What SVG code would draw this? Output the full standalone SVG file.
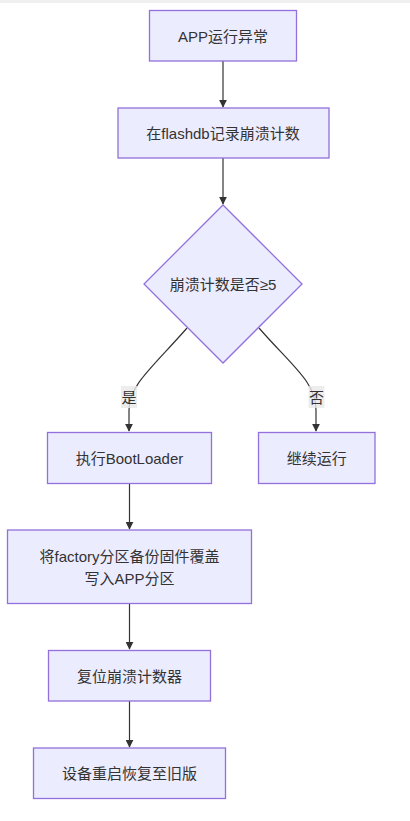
<svg xmlns="http://www.w3.org/2000/svg" width="410" height="821" viewBox="0 0 410 821">
<style>
.n rect, .n polygon { fill:#ECECFF; stroke:#9370DB; stroke-width:1.3; }
text { font-family:"Liberation Sans","Noto Sans CJK SC",sans-serif; font-size:15px; fill:#333; text-anchor:middle; dominant-baseline:central; }
.e { fill:none; stroke:#333; stroke-width:1.2; }
.lb { fill:#e8e8e8; fill-opacity:0.8; }
</style>
<defs>
<marker id="ah" viewBox="0 0 10 10" refX="9" refY="5" markerWidth="8" markerHeight="8" markerUnits="userSpaceOnUse" orient="auto">
<path d="M0,0 L10,5 L0,10 z" fill="#333"/>
</marker>
</defs>
<rect x="0" y="0" width="410" height="821" fill="#fff"/>
<rect x="0" y="0" width="410" height="3" fill="#efefef"/>
<g id="edges">
<path class="e" d="M223,61 L223,107" marker-end="url(#ah)"/>
<path class="e" d="M223,158 L223,204" marker-end="url(#ah)"/>
<path class="e" d="M187,328 C152,368 129,385 129,410 L129,431" marker-end="url(#ah)"/>
<path class="e" d="M259,328 C292,366 316,382 316,410 L316,431" marker-end="url(#ah)"/>
<path class="e" d="M129.5,483 L129.5,529" marker-end="url(#ah)"/>
<path class="e" d="M129.5,603 L129.5,649" marker-end="url(#ah)"/>
<path class="e" d="M129.5,701 L129.5,747" marker-end="url(#ah)"/>
<rect class="lb" x="121" y="386" width="16" height="22"/>
<text x="129" y="397">是</text>
<rect class="lb" x="308.5" y="386" width="16" height="22"/>
<text x="316.5" y="397">否</text>
</g>
<g id="A" class="n"><rect x="149.5" y="10.5" width="147" height="50.5"/><text x="223" y="36">APP运行异常</text></g>
<g id="B" class="n"><rect x="118" y="108" width="211" height="50"/><text x="223" y="133">在flashdb记录崩溃计数</text></g>
<g id="C" class="n"><polygon points="223,205 302,284 223,363 144,284"/><text x="223" y="284">崩溃计数是否≥5</text></g>
<g id="D" class="n"><rect x="47.5" y="432.5" width="164" height="51"/><text x="129.5" y="458">执行BootLoader</text></g>
<g id="E" class="n"><rect x="258.5" y="432.5" width="116.5" height="51"/><text x="316.7" y="458">继续运行</text></g>
<g id="F" class="n"><rect x="7.5" y="530" width="244" height="73.5"/><text x="129.5" y="556">将factory分区备份固件覆盖</text><text x="129.5" y="578">写入APP分区</text></g>
<g id="G" class="n"><rect x="48.5" y="650.5" width="162" height="50.5"/><text x="129.5" y="676">复位崩溃计数器</text></g>
<g id="H" class="n"><rect x="33.5" y="748" width="192" height="50.5"/><text x="129.5" y="773">设备重启恢复至旧版</text></g>
</svg>
